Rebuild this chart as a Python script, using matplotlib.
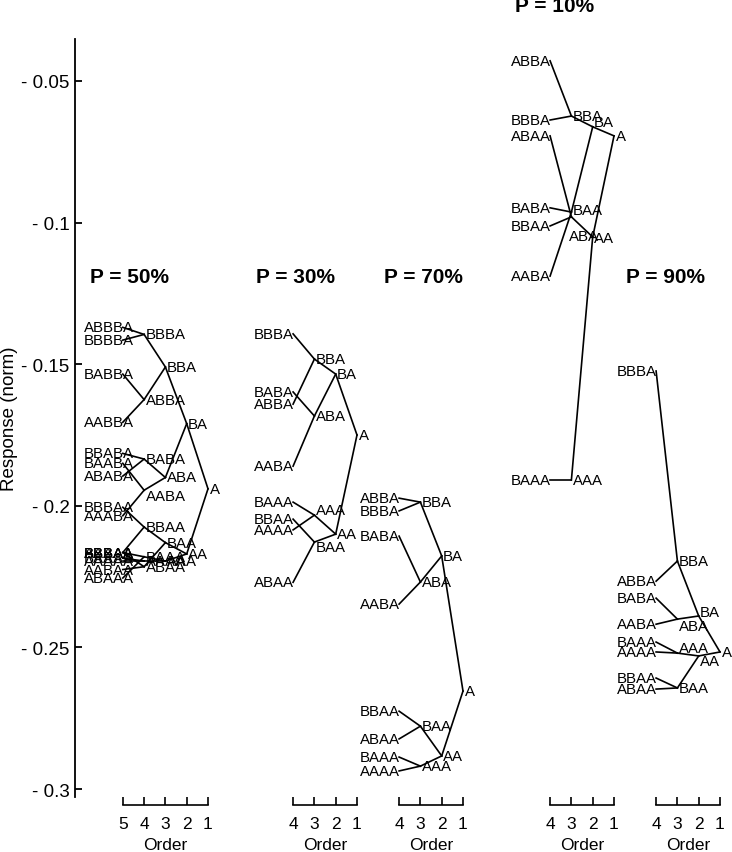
import numpy as np
import matplotlib.pyplot as plt

plt.rcParams['font.family'] = ['Liberation Sans', 'DejaVu Sans']

# sequence responses (norm), one list per panel
p50_seq = ['A',
           'BA', 'AA',
           'BBA', 'ABA', 'BAA', 'AAA',
           'BBBA', 'ABBA', 'BABA', 'AABA', 'BBAA', 'ABAA', 'BAAA', 'AAAA',
           'ABBBA', 'BBBBA', 'BABBA', 'AABBA', 'BBABA', 'BAABA', 'ABABA', 'AAABA',
           'BBBAA', 'ABBAA', 'BABAA', 'AABAA', 'BBAAA', 'ABAAA', 'BAAAA', 'AAAAA']
p50_val = [-0.194,
           -0.171, -0.217,
           -0.151, -0.190, -0.213, -0.2195,
           -0.1395, -0.1625, -0.1835, -0.1945, -0.2075, -0.2215, -0.218, -0.2195,
           -0.137, -0.1415, -0.1535, -0.1705, -0.1815, -0.185, -0.1895, -0.2035,
           -0.2005, -0.2165, -0.2165, -0.2225, -0.2165, -0.2255, -0.2185, -0.2195]

p30_seq = ['A', 'BA', 'AA', 'BBA', 'ABA', 'BAA', 'AAA',
           'BBBA', 'ABBA', 'BABA', 'AABA', 'BBAA', 'ABAA', 'BAAA', 'AAAA']
p30_val = [-0.175, -0.1535, -0.210, -0.1482, -0.1683, -0.2128, -0.2033,
           -0.1393, -0.1641, -0.1598, -0.186, -0.2047, -0.227, -0.1987, -0.2085]

p70_seq = ['A', 'BA', 'AA', 'BBA', 'ABA', 'BAA', 'AAA',
           'BBBA', 'ABBA', 'BABA', 'AABA', 'BBAA', 'ABAA', 'BAAA', 'AAAA']
p70_val = [-0.2654, -0.2177, -0.2883, -0.1987, -0.2269, -0.2778, -0.2919,
           -0.2018, -0.1973, -0.2107, -0.2347, -0.2725, -0.2823, -0.2887, -0.2936]

p10_seq = ['A', 'BA', 'AA', 'BBA', 'ABA', 'BAA', 'AAA',
           'BBBA', 'ABBA', 'BABA', 'AABA', 'BBAA', 'ABAA', 'BAAA']
p10_val = [-0.0694, -0.0662, -0.1051, -0.0624, -0.0963, -0.098, -0.1909,
           -0.0638, -0.0429, -0.0948, -0.1189, -0.1012, -0.0694, -0.1909]

p90_seq = ['A', 'BA', 'AA', 'BBA', 'ABA', 'BAA', 'AAA',
           'BBBA', 'ABBA', 'BABA', 'AABA', 'BBAA', 'ABAA', 'BAAA', 'AAAA']
p90_val = [-0.2516, -0.2389, -0.253, -0.2195, -0.240, -0.2643, -0.252,
           -0.1524, -0.2266, -0.2326, -0.2418, -0.2608, -0.2647, -0.2481, -0.2516]

panels = [
    ('P = 50%', p50_seq, p50_val, 5),
    ('P = 30%', p30_seq, p30_val, 4),
    ('P = 70%', p70_seq, p70_val, 4),
    ('P = 10%', p10_seq, p10_val, 4),
    ('P = 90%', p90_seq, p90_val, 4),
]
yticks = [-0.05, -0.1, -0.15, -0.2, -0.25, -0.3]
ytick_labels = ['- 0.05', '- 0.1', '- 0.15', '- 0.2', '- 0.25', '- 0.3']

# layout (pixel units along x)
W, H = 732, 853
order1_x = [208, 357, 463, 614, 720]
step = 21.3
title_x = [130, 295, 423, 555, 665]
title_y = [-0.1192, -0.1192, -0.1192, -0.0235, -0.1192]
ax_left, ax_top, ax_bot = 75, 40, 798
# label nudges (dx px, dy in data units) where labels were moved apart
nudge = {
    ('P = 50%', 'AABA'): (0, -0.0022),
    ('P = 10%', 'BAA'): (0, 0.0025), ('P = 10%', 'ABA'): (-4, -0.0085),
    ('P = 10%', 'BA'): (0, 0.0018), ('P = 10%', 'AA'): (0, -0.0005),
    ('P = 90%', 'ABA'): (0, -0.0025), ('P = 90%', 'AA'): (0, -0.0018),
    ('P = 90%', 'AAA'): (0, 0.0018), ('P = 90%', 'BA'): (0, 0.0015),
    ('P = 30%', 'AAA'): (0, 0.0018), ('P = 30%', 'BAA'): (0, -0.0018),
}

fig = plt.figure(figsize=(W / 100, H / 100), dpi=100)
ax = fig.add_axes([ax_left / W, 1 - ax_bot / H, 1 - ax_left / W, (ax_bot - ax_top) / H])
ax.set_xlim(ax_left, W)
ax.set_ylim(-0.3028, -0.0352)
for s in ['top', 'right', 'bottom']:
    ax.spines[s].set_visible(False)
ax.spines['left'].set_linewidth(1.3)
ax.set_xticks([])
ax.set_yticks(yticks)
ax.set_yticklabels(ytick_labels, fontsize=13.5)
ax.tick_params(axis='y', direction='in', length=5, width=1.3, pad=4)
ax.set_ylabel('Response (norm)', fontsize=13.5, labelpad=2)

lbl_kw = dict(fontsize=10.8, va='center', clip_on=False)
for i, (title, seqs, vals, maxo) in enumerate(panels):
    x1 = order1_x[i]
    v = dict(zip(seqs, vals))
    xpos = lambda s: x1 - (len(s) - 1) * step
    for s in seqs:
        if len(s) > 1:
            p = s[1:]
            ax.plot([xpos(s), xpos(p)], [v[s], v[p]], color='black', lw=1.2,
                    clip_on=False)
        dx, dy = nudge.get((title, s), (0, 0))
        if len(s) == maxo:
            ax.text(xpos(s) - 39 + dx, v[s] + dy, s, ha='left', **lbl_kw)
        else:
            ax.text(xpos(s) + 1.5 + dx, v[s] + dy, s, ha='left', **lbl_kw)
    ax.text(title_x[i], title_y[i], title, ha='center', va='center',
            fontsize=15, fontweight='bold', clip_on=False)

    # order axis below
    xl, xr = x1 - (maxo - 1) * step, x1
    oax = fig.add_axes([xl / W, 1 - 806 / H, (xr - xl) / W, 0.0001])
    oax.set_xlim(maxo, 1)
    oax.set_yticks([])
    for s in ['top', 'right', 'left']:
        oax.spines[s].set_visible(False)
    oax.spines['bottom'].set_linewidth(1.2)
    oax.set_xticks(range(maxo, 0, -1))
    oax.tick_params(axis='x', direction='in', length=6, width=1.2, labelsize=12.5, pad=8)
    oax.set_xlabel('Order', fontsize=12.5, labelpad=4)
    oax.patch.set_visible(False)

fig.savefig('out.png', dpi=100)
